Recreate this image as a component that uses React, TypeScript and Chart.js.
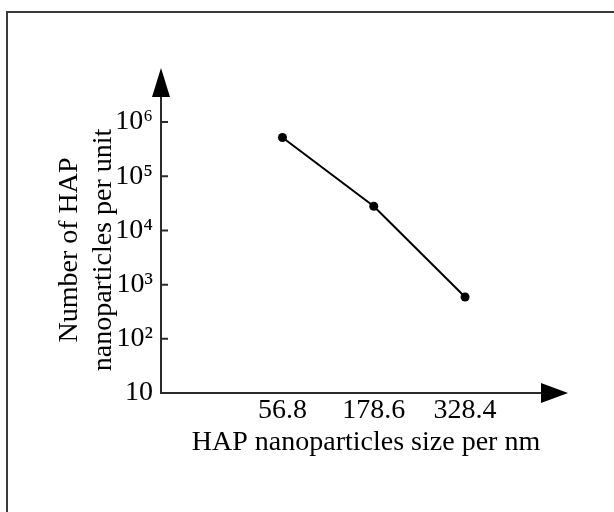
import React, { useEffect, useRef } from "react";
import { Chart, registerables } from "chart.js";

Chart.register(...registerables);

// ---- data ----
const categories = ["56.8", "178.6", "328.4"];
const counts = [5.2e5, 2.8e4, 5.9e2];
const yTickValues = [10, 100, 1000, 10000, 100000, 1000000];
const yTickLabels = ["10", "10²", "10³", "10⁴", "10⁵", "10⁶"];
const xTitle = "HAP nanoparticles size per nm";
const yTitle = ["Number of HAP", "nanoparticles per unit"];

const FONT = '"Liberation Serif", "Times New Roman", serif';
const AXIS_COLOR = "#2b2b2b";

const axesPlugin = {
  id: "axesArrows",
  beforeDraw(chart: any) {
    const { ctx, width, height } = chart;
    ctx.save();
    ctx.fillStyle = "#ffffff";
    ctx.fillRect(0, 0, width, height);
    ctx.strokeStyle = "#3a3a3a";
    ctx.lineWidth = 2;
    ctx.beginPath();
    ctx.moveTo(7, height);
    ctx.lineTo(7, 12);
    ctx.lineTo(width, 12);
    ctx.stroke();
    ctx.restore();
  },
  afterDraw(chart: any) {
    const { ctx, chartArea, scales } = chart;
    const x0 = chartArea.left;
    const y0 = chartArea.bottom;
    const yTip = chartArea.top - 39;
    const xTip = chartArea.right - 3;
    ctx.save();
    ctx.strokeStyle = AXIS_COLOR;
    ctx.fillStyle = "#000000";
    ctx.lineWidth = 2;
    ctx.beginPath();
    ctx.moveTo(x0, y0);
    ctx.lineTo(x0, yTip + 20);
    ctx.moveTo(x0 - 1, y0);
    ctx.lineTo(xTip - 20, y0);
    ctx.stroke();
    // y arrow
    ctx.beginPath();
    ctx.moveTo(x0, yTip);
    ctx.lineTo(x0 - 9, yTip + 29);
    ctx.lineTo(x0 + 9, yTip + 29);
    ctx.closePath();
    ctx.fill();
    // x arrow
    ctx.beginPath();
    ctx.moveTo(xTip, y0);
    ctx.lineTo(xTip - 27, y0 - 10);
    ctx.lineTo(xTip - 27, y0 + 10);
    ctx.closePath();
    ctx.fill();
    // inward tick stubs
    ctx.beginPath();
    yTickValues.slice(1).forEach((v) => {
      const y = scales.y.getPixelForValue(v);
      ctx.moveTo(x0, y);
      ctx.lineTo(x0 + 7, y);
    });
    ctx.stroke();
    ctx.restore();
  },
};

export default function App() {
  const canvasRef = useRef<HTMLCanvasElement | null>(null);

  useEffect(() => {
    if (!canvasRef.current) return;
    const chart = new Chart(canvasRef.current, {
      type: "line",
      data: {
        datasets: [
          {
            data: counts.map((c, i) => ({ x: i, y: c })),
            borderColor: "#000000",
            backgroundColor: "#000000",
            borderWidth: 2,
            pointRadius: 4.5,
            pointBackgroundColor: "#000000",
            pointBorderWidth: 0,
            tension: 0,
          },
        ],
      },
      options: {
        responsive: false,
        animation: false,
        events: [],
        layout: { padding: { left: 53, top: 107, right: 43, bottom: 0 } },
        plugins: {
          legend: { display: false },
          tooltip: { enabled: false },
        },
        scales: {
          x: {
            type: "linear",
            min: -1.33,
            max: 3.16,
            grid: { display: false, drawTicks: false },
            border: { display: false },
            afterBuildTicks: (s: any) => {
              s.ticks = categories.map((_, i) => ({ value: i }));
            },
            afterFit: (s: any) => {
              s.height = 119;
            },
            ticks: {
              autoSkip: false,
              maxRotation: 0,
              padding: 1,
              color: "#000000",
              font: { family: FONT, size: 28 },
              callback: (v: any) => categories[Number(v)] ?? "",
            },
            title: {
              display: true,
              text: xTitle,
              color: "#000000",
              font: { family: FONT, size: 28 },
              padding: { top: 0, bottom: 53 },
            },
          },
          y: {
            type: "logarithmic",
            min: 10,
            max: 1.9e6,
            grid: { display: false, drawTicks: false },
            border: { display: false },
            afterBuildTicks: (s: any) => {
              s.ticks = yTickValues.map((v) => ({ value: v }));
            },
            afterFit: (s: any) => {
              s.width = 108;
            },
            ticks: {
              autoSkip: false,
              padding: 8,
              color: "#000000",
              font: { family: FONT, size: 28 },
              callback: (v: any) => {
                const idx = yTickValues.indexOf(Number(v));
                return idx >= 0 ? yTickLabels[idx] : "";
              },
            },
            title: {
              display: true,
              text: yTitle,
              color: "#000000",
              font: { family: FONT, size: 28 },
              padding: { top: 0, bottom: 0 },
            },
          },
        },
      },
      plugins: [axesPlugin],
    } as any);
    return () => chart.destroy();
  }, []);

  return (
    <div style={{ position: "absolute", left: 0, top: 0, width: 614, height: 512, background: "#fff" }}>
      <canvas ref={canvasRef} width={614} height={512} style={{ display: "block" }} />
    </div>
  );
}
